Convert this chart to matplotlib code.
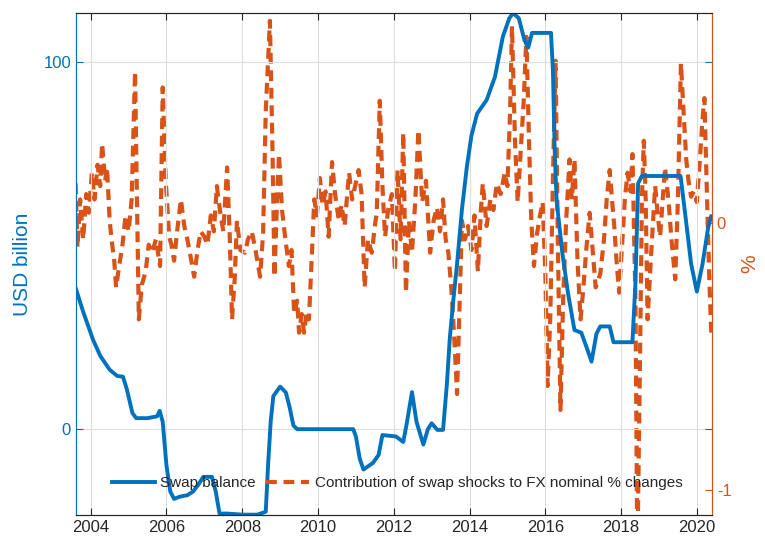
import numpy as np
import matplotlib
matplotlib.use("Agg")
import matplotlib.pyplot as plt

plt.rcParams['font.family'] = ['Liberation Sans', 'DejaVu Sans']

# Swap balance (USD billion)
swap_t = [2003.60, 2003.80, 2004.06, 2004.25, 2004.50, 2004.70, 2004.85, 2004.95,
          2005.10, 2005.20, 2005.50, 2005.75, 2005.82, 2005.90, 2006.00, 2006.10,
          2006.20, 2006.35, 2006.55, 2006.70, 2006.85, 2006.97, 2007.20, 2007.30,
          2007.40, 2007.60, 2008.00, 2008.40, 2008.62, 2008.68, 2008.75, 2008.82,
          2009.00, 2009.15, 2009.25, 2009.35, 2009.45, 2010.93, 2011.00, 2011.10,
          2011.20, 2011.45, 2011.60, 2011.70, 2012.06, 2012.25, 2012.35, 2012.48,
          2012.60, 2012.78, 2012.90, 2013.00, 2013.15, 2013.30, 2013.40, 2013.48,
          2013.58, 2013.67, 2013.80, 2013.93, 2014.05, 2014.20, 2014.45, 2014.67,
          2014.88, 2015.05, 2015.15, 2015.30, 2015.45, 2015.55, 2015.65, 2016.15,
          2016.20, 2016.25, 2016.30, 2016.45, 2016.60, 2016.77, 2016.95, 2017.10,
          2017.22, 2017.35, 2017.45, 2017.70, 2017.80, 2018.30, 2018.38, 2018.45,
          2018.55, 2019.57, 2019.70, 2019.85, 2020.00, 2020.15, 2020.30, 2020.38]
swap_v = [38.5, 32, 24.4, 20, 16.2, 14.5, 14.3, 11,
          4.4, 3, 3, 3.5, 5, 2, -10, -17,
          -19, -18.4, -18, -17, -15, -13, -13, -17,
          -23, -23, -23.3, -23.3, -22.5, -10, 2, 9,
          11.6, 10, 6, 1, 0, 0, -2, -8,
          -11, -9.2, -7, -1.6, -2, -3.5, 2, 10.1,
          2, -4.2, 0, 1.6, -0.2, -0.2, 12, 25,
          36, 45, 60, 71.6, 80, 86, 89.7, 96,
          107, 112, 113.4, 112, 106, 104, 108, 108,
          98, 75, 62, 48, 37, 27, 26.3, 22,
          18.4, 26, 28, 28, 23.7, 23.7, 40, 67,
          69, 69, 58, 45, 37.5, 45, 55, 58]

# Contribution of swap shocks to FX nominal % changes (%)
fx_t = [2003.60, 2003.65, 2003.72, 2003.80, 2003.88, 2003.95, 2004.03, 2004.10,
        2004.18, 2004.25, 2004.30, 2004.38, 2004.43, 2004.50, 2004.55, 2004.62,
        2004.67, 2004.75, 2004.83, 2004.92, 2005.00, 2005.08, 2005.17, 2005.22,
        2005.27, 2005.35, 2005.45, 2005.53, 2005.62, 2005.72, 2005.83, 2005.90,
        2005.98, 2006.07, 2006.13, 2006.20, 2006.28, 2006.38, 2006.47, 2006.55,
        2006.63, 2006.73, 2006.82, 2006.90, 2007.00, 2007.08, 2007.17, 2007.25,
        2007.33, 2007.42, 2007.50, 2007.60, 2007.67, 2007.73, 2007.80, 2007.86,
        2007.95, 2008.07, 2008.15, 2008.25, 2008.35, 2008.47, 2008.55, 2008.62,
        2008.73, 2008.80, 2008.85, 2008.92, 2008.97, 2009.05, 2009.13, 2009.23,
        2009.30, 2009.37, 2009.45, 2009.50, 2009.57, 2009.63, 2009.70, 2009.76,
        2009.84, 2009.90, 2009.97, 2010.05, 2010.12, 2010.20, 2010.28, 2010.37,
        2010.45, 2010.55, 2010.62, 2010.70, 2010.82, 2010.90, 2010.98, 2011.07,
        2011.15, 2011.23, 2011.32, 2011.42, 2011.50, 2011.55, 2011.63, 2011.70,
        2011.77, 2011.85, 2011.95, 2012.03, 2012.10, 2012.18, 2012.25, 2012.32,
        2012.40, 2012.48, 2012.57, 2012.65, 2012.75, 2012.85, 2012.96, 2013.05,
        2013.14, 2013.22, 2013.30, 2013.37, 2013.44, 2013.50, 2013.54, 2013.60,
        2013.67, 2013.74, 2013.80, 2013.88, 2013.96, 2014.05, 2014.13, 2014.22,
        2014.30, 2014.35, 2014.45, 2014.55, 2014.63, 2014.72, 2014.82, 2014.93,
        2015.00, 2015.07, 2015.12, 2015.20, 2015.27, 2015.35, 2015.43, 2015.50,
        2015.57, 2015.63, 2015.70, 2015.78, 2015.86, 2015.93, 2016.00, 2016.06,
        2016.13, 2016.20, 2016.27, 2016.33, 2016.40, 2016.47, 2016.55, 2016.64,
        2016.70, 2016.77, 2016.85, 2016.93, 2017.00, 2017.08, 2017.17, 2017.25,
        2017.33, 2017.45, 2017.55, 2017.62, 2017.70, 2017.76, 2017.82, 2017.88,
        2017.95, 2018.05, 2018.10, 2018.17, 2018.25, 2018.30, 2018.38, 2018.43,
        2018.50, 2018.55, 2018.60, 2018.65, 2018.70, 2018.80, 2018.90, 2018.97,
        2019.03, 2019.10, 2019.16, 2019.25, 2019.33, 2019.43, 2019.50, 2019.58,
        2019.65, 2019.72, 2019.78, 2019.85, 2019.92, 2020.00, 2020.08, 2020.15,
        2020.20, 2020.27, 2020.33, 2020.38]
fx_v = [0.15, -0.09, 0.09, -0.06, 0.11, 0.04, 0.19, 0.09,
        0.22, 0.14, 0.30, 0.16, 0.21, 0.01, -0.06, -0.14,
        -0.24, -0.16, -0.09, 0.03, -0.03, 0.09, 0.57, 0.09,
        -0.36, -0.23, -0.18, -0.08, -0.11, -0.06, -0.16, 0.51,
        0.16, -0.05, -0.08, -0.14, -0.03, 0.09, -0.01, -0.06,
        -0.12, -0.20, -0.10, -0.03, -0.05, -0.08, 0.03, -0.03,
        0.14, 0.04, -0.03, 0.21, -0.05, -0.36, -0.21, 0.01,
        -0.10, -0.11, -0.06, -0.03, -0.10, -0.20, -0.04, 0.42,
        0.76, 0.26, -0.20, 0.09, 0.26, 0.05, -0.05, -0.16,
        -0.10, -0.34, -0.29, -0.41, -0.34, -0.41, -0.33, -0.36,
        -0.11, 0.09, 0.03, 0.17, 0.07, 0.12, -0.05, 0.23,
        0.11, 0.01, 0.07, -0.01, 0.19, 0.09, 0.14, 0.20,
        0.11, -0.24, -0.06, -0.11, -0.01, 0.04, 0.46, 0.14,
        -0.05, 0.05, 0.11, -0.18, 0.20, -0.06, 0.34, -0.26,
        0.01, -0.11, 0.09, 0.35, 0.08, 0.16, -0.11, 0.01,
        0.06, -0.03, 0.09, -0.06, -0.11, -0.21, -0.29, -0.44,
        -0.64, -0.29, 0.01, -0.06, -0.01, -0.10, 0.03, -0.18,
        0.05, 0.15, -0.01, 0.09, 0.05, 0.15, 0.11, 0.19,
        0.14, 0.42, 0.74, 0.31, 0.08, 0.27, 0.46, 0.70,
        0.31, 0.01, -0.16, -0.04, 0.03, 0.08, -0.18, -0.61,
        -0.36, 0.16, 0.61, -0.06, -0.70, -0.29, 0.01, 0.24,
        0.09, 0.24, -0.14, -0.36, -0.25, -0.10, 0.04, -0.10,
        -0.24, -0.19, -0.06, 0.09, 0.20, 0.09, -0.01, -0.14,
        -0.26, -0.03, 0.09, 0.19, 0.12, 0.26, -0.29, -1.26,
        -0.51, 0.09, 0.31, 0.09, -0.36, -0.10, 0.14, 0.03,
        -0.05, 0.09, 0.21, 0.09, -0.06, -0.21, 0.09, 0.60,
        0.42, 0.24, 0.16, 0.10, 0.12, 0.08, 0.24, 0.39,
        0.47, 0.09, -0.21, -0.41]

year_ticks = [2004, 2006, 2008, 2010, 2012, 2014, 2016, 2018, 2020]

blue = (0, 0.447, 0.741)
orange = (0.851, 0.325, 0.098)

fig = plt.figure(figsize=(7.65, 5.45), dpi=100)
ax = fig.add_axes([0.0993, 0.055, 0.8314, 0.921])
ax2 = ax.twinx()

ax2.plot(fx_t, fx_v, color=orange, lw=3, dashes=(2.6, 1.6),
         label='Contribution of swap shocks to FX nominal % changes')
ax.plot(swap_t, swap_v, color=blue, lw=2.8, label='Swap balance')
ax.set_zorder(ax2.get_zorder() + 1)
ax.patch.set_visible(False)

ax.set_xlim(2003.61, 2020.40)
ax.set_ylim(-23.4, 113.4)
ax2.set_ylim(-1.094, 0.789)

ax.set_xticks(year_ticks)
ax.set_yticks([0, 100])
ax2.set_yticks([-1, 0])
ax2.set_yticklabels(['-1', '0'])

ax.grid(True, color='#dedede', lw=0.8)
ax.tick_params(axis='x', direction='in', top=True, labelsize=12, colors='#262626', length=5)
ax.tick_params(axis='y', direction='in', right=True, labelsize=12, colors=blue, length=5)
ax2.tick_params(axis='y', direction='in', labelsize=12, colors=orange, length=5)

ax.set_ylabel('USD billion', color=blue, fontsize=15, labelpad=8)
ax2.set_ylabel('%', color=orange, fontsize=15, labelpad=6)

for a in (ax, ax2):
    a.spines['top'].set_color('#262626')
    a.spines['bottom'].set_color('#262626')
    a.spines['left'].set_color(blue)
    a.spines['right'].set_color(orange)

h1, l1 = ax.get_legend_handles_labels()
h2, l2 = ax2.get_legend_handles_labels()
ax.legend(h1 + h2, l1 + l2, loc='center', bbox_to_anchor=(0.505, 0.064), ncol=2,
          frameon=False, fontsize=11, handlelength=2.8, handletextpad=0.35,
          columnspacing=0.7, labelcolor='#262626')

fig.savefig('out.png', dpi=100)
